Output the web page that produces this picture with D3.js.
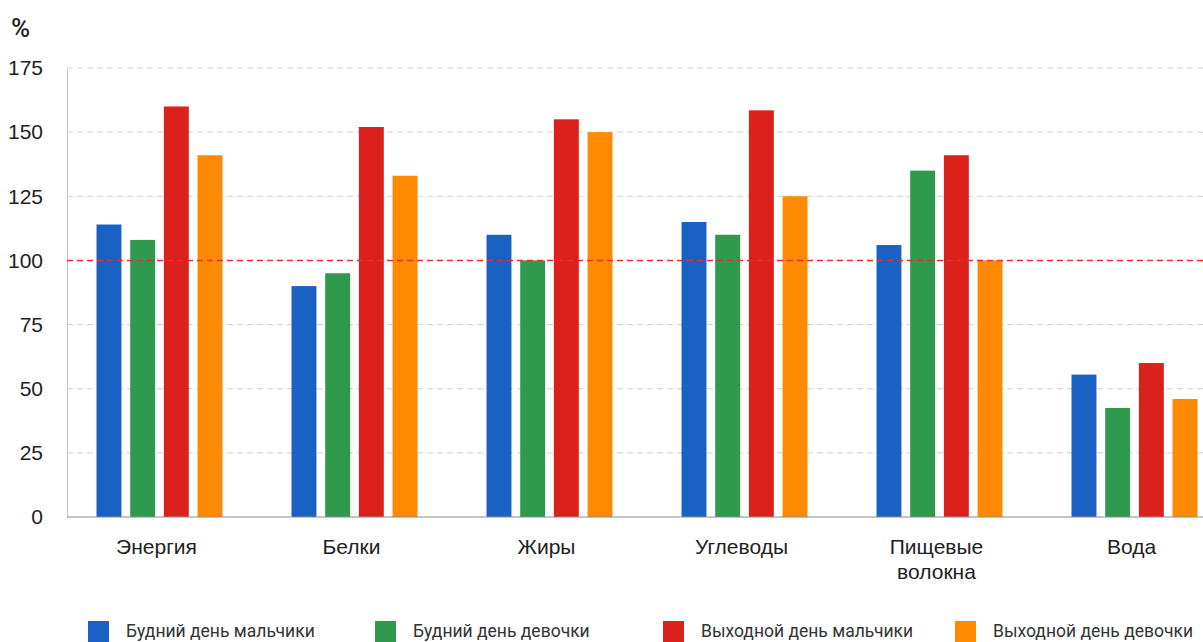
<!DOCTYPE html>
<html>
<head>
<meta charset="utf-8">
<script src="https://cdn.jsdelivr.net/npm/d3@7"></script>
<style>
  html, body { margin: 0; padding: 0; background: #fff; }
  svg { display: block; font-family: Roboto, "Open Sans", sans-serif; }
</style>
</head>
<body>
<svg id="chart" width="1203" height="642"></svg>
<script>
// Nutrient intake relative to norm (%), by day type and sex
const categories = ["Энергия", "Белки", "Жиры", "Углеводы", "Пищевые волокна", "Вода"];
const seriesNames = ["Будний день мальчики", "Будний день девочки", "Выходной день мальчики", "Выходной день девочки"];
const weekdayBoys  = [114, 90, 110, 115, 106, 55.5];
const weekdayGirls = [108, 95, 100, 110, 135, 42.5];
const weekendBoys  = [160, 152, 155, 158.5, 141, 60];
const weekendGirls = [141, 133, 150, 125, 100, 46];
const seriesColors = ["#1a61c4", "#2f9a4e", "#dc201b", "#ff8a00"];
const yTicks = [0, 25, 50, 75, 100, 125, 150, 175];
const normLevel = 100;

const seriesValues = [weekdayBoys, weekdayGirls, weekendBoys, weekendGirls];
const svg = d3.select("#chart");

const y = d3.scaleLinear().domain([0, 175]).range([517, 68]);
const x0 = d3.scaleBand().domain(categories).range([62, 1232])
  .paddingInner(0.354).paddingOuter(0.177);
const x1 = d3.scaleBand().domain(seriesNames).range([0, x0.bandwidth()]).paddingInner(0.26);

// dashed grid
svg.append("g").selectAll("line").data(yTicks.filter(t => t > 0 && t !== normLevel))
  .join("line")
  .attr("x1", 67).attr("x2", 1203)
  .attr("y1", d => y(d)).attr("y2", d => y(d))
  .attr("stroke", "#cfcfcf").attr("stroke-width", 1)
  .attr("stroke-dasharray", "6,4");

// y axis
const yAxis = d3.axisLeft(y).tickValues(yTicks).tickSize(0).tickPadding(24);
const gy = svg.append("g").attr("transform", "translate(67,0)").call(yAxis);
gy.select(".domain").attr("stroke", "#c8c8c8");
gy.selectAll("text").attr("fill", "#222").style("font-size", "21px").style("font-weight", 500);

svg.append("text").attr("x", 11).attr("y", 37).attr("fill", "#222")
  .style("font-size", "26px").style("font-weight", 500).text("%");

// bars
const groups = svg.append("g").selectAll("g").data(categories).join("g")
  .attr("transform", d => `translate(${x0(d)},0)`);
groups.selectAll("rect")
  .data((c, i) => seriesNames.map((s, k) => ({ s, k, v: seriesValues[k][i] })))
  .join("rect")
  .attr("x", d => x1(d.s))
  .attr("width", x1.bandwidth())
  .attr("y", d => y(d.v))
  .attr("height", d => y(0) - y(d.v))
  .attr("fill", d => seriesColors[d.k]);

// norm line
svg.append("line")
  .attr("x1", 67).attr("x2", 1203)
  .attr("y1", y(normLevel)).attr("y2", y(normLevel))
  .attr("stroke", "#ee2a2a").attr("stroke-width", 1.5)
  .attr("stroke-dasharray", "6,4");

// x axis
const xAxis = d3.axisBottom(x0).tickSize(0).tickPadding(0);
const gx = svg.append("g").attr("transform", `translate(0,${y(0)})`).call(xAxis);
gx.select(".domain").attr("stroke", "#8a8a8a").attr("d", "M67,0H1203");
gx.selectAll("text").remove();
gx.selectAll(".tick").each(function(d) {
  const words = d.split(" ");
  const t = d3.select(this).append("text")
    .attr("fill", "#222").attr("text-anchor", "middle")
    .style("font-size", "21px").style("font-weight", 500);
  words.forEach((w, i) => {
    t.append("tspan").attr("x", -3).attr("y", 37 + i * 25).text(w);
  });
});

// legend
const legendX = [88, 375, 663, 955];
const legend = svg.append("g").selectAll("g").data(seriesNames).join("g")
  .attr("transform", (d, i) => `translate(${legendX[i]},621)`);
legend.append("rect").attr("width", 21).attr("height", 21)
  .attr("fill", (d, i) => seriesColors[i]);
legend.append("text").attr("x", 38).attr("y", 16)
  .attr("fill", "#333").style("font-size", "17.5px").text(d => d);
</script>
</body>
</html>
